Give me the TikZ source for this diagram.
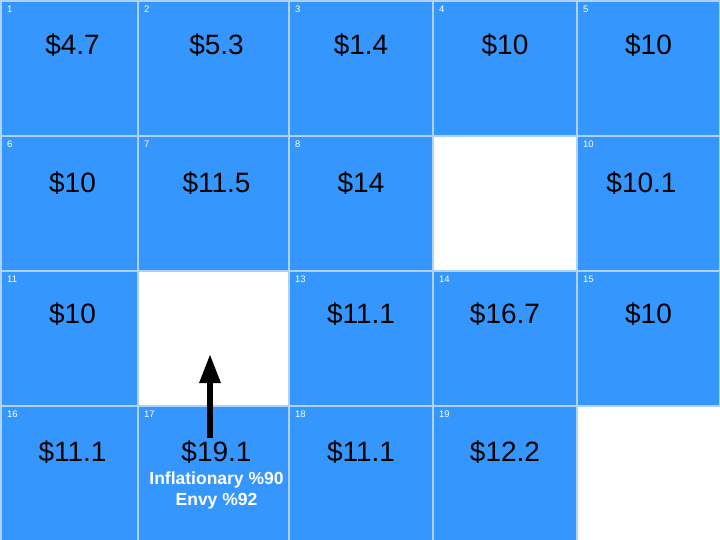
\documentclass[tikz,border=0pt]{standalone}
\usepackage{fontspec}
\setmainfont{Liberation Sans}
\usetikzlibrary{arrows.meta}
\definecolor{cellblue}{RGB}{53,151,253}
\definecolor{gridline}{RGB}{175,210,250}
\begin{document}
\begin{tikzpicture}[x=1pt,y=-1pt,
  cell/.style={rectangle,fill=cellblue,draw=gridline,line width=1.5pt,inner sep=0pt,outer sep=0pt,anchor=north west,minimum height=135pt},
  idx/.style={text=white,font=\fontsize{9.5}{10}\selectfont,inner sep=0pt,anchor=north west},
  val/.style={text=black,font=\fontsize{28}{30}\selectfont,inner sep=0pt},
  info/.style={text=white,font=\bfseries\fontsize{17.5}{20}\selectfont,inner sep=0pt,align=center}]
\useasboundingbox (0,0) rectangle (720,540);
\fill[white] (0,0) rectangle (720,540);
\foreach \n/\x/\y/\w in {
  1/0/0/137, 2/137/0/151, 3/288/0/144, 4/432/0/144, 5/576/0/143,
  6/0/135/137, 7/137/135/151, 8/288/135/144, 10/576/135/143,
  11/0/270/137, 13/288/270/144, 14/432/270/144, 15/576/270/143,
  16/0/405/137, 17/137/405/151, 18/288/405/144, 19/432/405/144}{
  \node[cell,minimum width=\w pt] (c\n) at (\x+1,\y+1) {};
  \node[idx] (i\n) at ([xshift=6pt,yshift=-5pt]c\n.north west) {\n};
}
% arrow
\coordinate (atail) at (210,438);
\coordinate (ahead) at (210,354);
\draw[line width=6pt,-{Triangle[width=20pt,length=29pt]}] (atail) -- (ahead);
\foreach \n/\v/\dy/\dx in {
  1/{\$4.7}/44/3, 2/{\$5.3}/44/3, 3/{\$1.4}/44/0, 4/{\$10}/44/0, 5/{\$10}/44/0,
  6/{\$10}/47/3, 7/{\$11.5}/47/3, 8/{\$14}/47/0, 10/{\$10.1}/47/-7,
  11/{\$10}/43/3, 13/{\$11.1}/43/0, 14/{\$16.7}/43/0, 15/{\$10}/43/0,
  16/{\$11.1}/46/3, 17/{\$19.1}/46/3, 18/{\$11.1}/46/0, 19/{\$12.2}/46/0}{
  \node[val] (v\n) at ([xshift=\dx pt,yshift=-\dy pt]c\n.north) {\v};
}
\node[info] (inf) at ([xshift=3pt,yshift=-74pt]c17.north) {Inflationary \%90};
\node[info] (envy) at ([xshift=3pt,yshift=-95pt]c17.north) {Envy \%92};
\end{tikzpicture}
\end{document}
